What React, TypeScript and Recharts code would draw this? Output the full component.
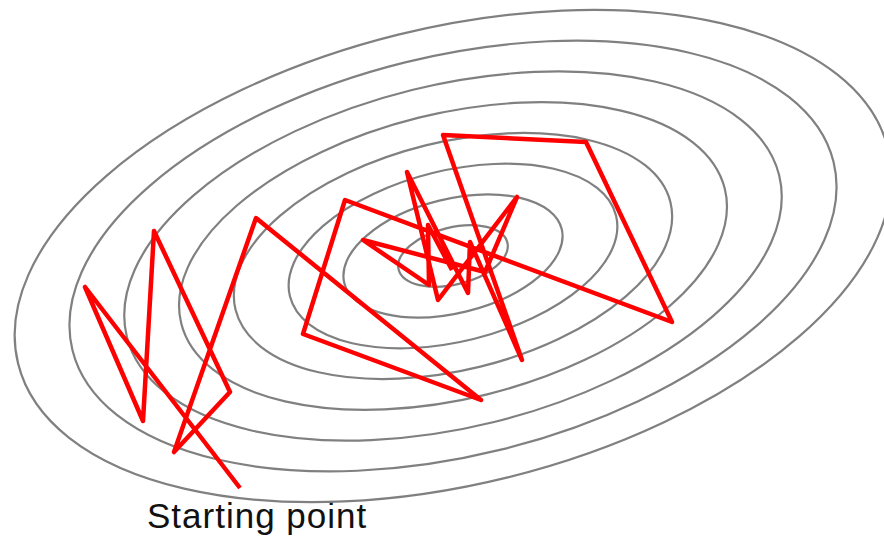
import { ScatterChart, Scatter, XAxis, YAxis, Customized } from "recharts";

// contour rings (semi-axes in plot units, same centre, tilted)
const ringMajor = [56, 112, 168, 224, 280, 336, 392, 448];
const ringMinor = [28.5, 57, 85.5, 114, 142.5, 171, 199.5, 228];
const ringCenterX = 453;
const ringCenterY = 256;
const ringTilt = 13.9;

// noisy descent path, from the starting point to the minimum
const pathX = [240, 85, 143, 154, 230, 174, 256, 481, 303, 345, 672, 586, 443, 522, 470, 468, 407, 438, 517, 485, 363, 429, 428, 452];
const pathY = [488, 287, 421, 231, 392, 452, 218, 400, 334, 200, 322, 142, 135, 360, 242, 293, 172, 300, 197, 272, 240, 285, 225, 270];

const startLabel = "Starting point";

const rings = ringMajor.map((a, i) => ({ x: ringCenterX, y: ringCenterY, a, b: ringMinor[i] }));
const path = pathX.map((x, i) => ({ x, y: pathY[i] }));

const W = 884;
const H = 538;

function RingShape(props: any) {
  const { cx, cy, payload } = props;
  return (
    <ellipse
      cx={cx}
      cy={cy}
      rx={payload.a}
      ry={payload.b}
      transform={`rotate(${-ringTilt} ${cx} ${cy})`}
      fill="none"
      stroke="#808080"
      strokeWidth={2.2}
    />
  );
}

function StartText() {
  return (
    <text
      x={147}
      y={528}
      fontFamily="'Liberation Sans', Arial, sans-serif"
      fontSize={35}
      letterSpacing={1}
      fill="#111"
    >
      {startLabel}
    </text>
  );
}

export default function App() {
  return (
    <div style={{ position: "absolute", left: 0, top: 0, width: W, height: H, background: "#fff" }}>
      <ScatterChart width={W} height={H} margin={{ top: 0, right: 0, bottom: 0, left: 0 }}>
        <XAxis type="number" dataKey="x" domain={[0, W]} hide allowDataOverflow />
        <YAxis type="number" dataKey="y" domain={[0, H]} reversed hide allowDataOverflow />
        <Scatter data={rings} shape={RingShape} isAnimationActive={false} />
        <Scatter
          data={path}
          line={{ stroke: "#ff0000", strokeWidth: 4.5, strokeLinejoin: "round" }}
          lineType="joint"
          shape={() => <g />}
          isAnimationActive={false}
        />
        <Customized component={StartText} />
      </ScatterChart>
    </div>
  );
}
